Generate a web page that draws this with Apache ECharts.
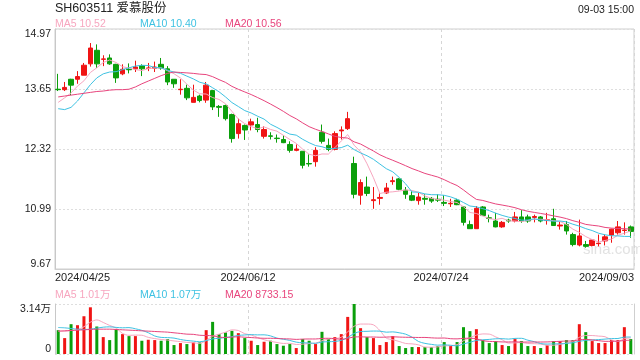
<!DOCTYPE html>
<html><head><meta charset="utf-8">
<script src="https://cdn.jsdelivr.net/npm/echarts@6/dist/echarts.min.js"></script>
<style>html,body{margin:0;padding:0;background:#fff}#c{width:640px;height:360px}</style>
</head><body><div id="c"></div>
<script>
const dates = ['04/25','04/26','04/29','04/30',
'05/06','05/07','05/08','05/09','05/10','05/13','05/14','05/15','05/16','05/17','05/20','05/21','05/22','05/23','05/24','05/27','05/28','05/29','05/30','05/31',
'06/03','06/04','06/05','06/06','06/07','06/11','06/12','06/13','06/14','06/17','06/18','06/19','06/20','06/21','06/24','06/25','06/26','06/27','06/28',
'07/01','07/02','07/03','07/04','07/05','07/08','07/09','07/10','07/11','07/12','07/15','07/16','07/17','07/18','07/19','07/22','07/23','07/24','07/25','07/26','07/29','07/30','07/31',
'08/01','08/02','08/05','08/06','08/07','08/08','08/09','08/12','08/13','08/14','08/15','08/16','08/19','08/20','08/21','08/22','08/23','08/26','08/27','08/28','08/29','08/30',
'09/02','09/03'];
const opens = [13.64,13.63,13.86,13.86,13.95,14.20,14.50,14.30,14.33,14.19,13.98,14.08,14.09,14.16,14.10,14.10,14.19,14.09,13.86,13.63,
13.66,13.35,13.49,13.40,13.61,13.26,13.28,13.08,12.66,12.84,12.85,12.86,12.60,12.61,12.56,12.53,12.42,12.29,12.27,12.00,
12.04,12.69,12.40,12.31,12.72,12.77,12.00,11.30,11.48,11.18,11.23,11.35,11.60,11.66,11.41,11.29,11.18,11.23,11.23,11.21,
11.14,11.11,11.19,11.04,10.65,10.56,11.04,10.80,10.73,10.60,10.75,10.73,10.82,10.82,10.81,10.82,10.74,10.78,10.62,10.65,
10.43,10.20,10.21,10.19,10.23,10.29,10.42,10.47,10.52,10.60];
const closes = [13.63,13.68,13.73,13.92,14.17,14.55,14.20,14.31,14.20,13.89,14.08,14.07,14.13,14.09,14.11,14.13,14.11,13.80,13.76,13.64,
13.45,13.46,13.39,13.73,13.25,13.24,12.99,12.55,12.88,12.74,12.92,12.75,12.75,12.60,12.55,12.46,12.29,12.32,11.96,11.99,
12.29,12.49,12.31,12.66,12.74,12.99,11.32,11.58,11.34,11.20,11.25,11.46,11.62,11.43,11.32,11.19,11.26,11.21,11.17,11.19,
11.12,11.12,11.09,10.70,10.56,11.01,10.85,10.79,10.60,10.70,10.73,10.82,10.73,10.73,10.83,10.73,10.76,10.63,10.64,10.51,
10.21,10.40,10.17,10.31,10.24,10.38,10.55,10.60,10.53,10.50];
const lows = [13.60,13.60,13.51,13.76,13.95,14.14,14.11,14.15,14.18,13.78,13.95,13.99,14.02,13.93,14.04,14.02,14.07,13.73,13.67,13.52,
13.40,13.35,13.35,13.34,13.18,13.03,12.95,12.46,12.55,12.52,12.73,12.69,12.55,12.53,12.46,12.45,12.24,12.27,11.89,11.93,
11.93,12.44,12.27,12.29,12.53,12.74,11.23,11.09,11.28,11.00,11.09,11.33,11.53,11.41,11.22,11.17,11.09,11.09,11.13,11.15,
11.06,11.04,11.08,10.63,10.56,10.56,10.84,10.70,10.59,10.58,10.69,10.70,10.69,10.69,10.70,10.70,10.65,10.62,10.54,10.43,
10.17,10.17,10.14,10.17,10.17,10.19,10.25,10.43,10.43,10.36];
const highs = [13.98,13.80,13.87,14.04,14.22,14.66,14.63,14.39,14.41,14.20,14.19,14.21,14.27,14.19,14.22,14.25,14.33,14.15,13.86,13.86,
13.74,13.74,13.52,13.80,13.62,13.29,13.30,13.10,12.99,12.86,12.99,13.01,12.82,12.69,12.64,12.62,12.49,12.42,12.27,12.20,
12.36,12.86,12.55,12.71,12.82,13.14,12.15,11.65,11.71,11.48,11.34,11.57,11.71,11.68,11.48,11.39,11.35,11.32,11.26,11.32,
11.30,11.22,11.22,11.06,10.74,11.06,11.06,10.87,10.91,10.73,10.78,10.93,10.97,10.87,10.87,10.84,10.91,11.00,10.73,10.73,
10.47,10.76,10.29,10.32,10.43,10.43,10.56,10.73,10.70,10.63];
const volumes = [14976,9984,18720,18096,23712,29328,17264,10608,8736,15600,12480,11232,11232,8320,8944,8736,8320,9360,5616,6864,
6240,7280,7280,14976,20176,12480,13520,14560,13104,9984,8320,5616,7696,8320,6240,5200,6240,3744,9360,8320,
6240,13936,9360,10608,12480,23296,31400,16224,10608,9984,5616,7488,11232,4992,3744,4368,4368,4368,4368,4992,
7488,4992,7488,16848,14352,15600,8736,6864,8112,5616,4992,9360,8112,4992,4992,3744,5616,8112,8112,8736,
8736,18720,13728,8112,6864,6864,8736,8736,16848,9360];
// moving-average values before enough visible sessions exist
const ma5Head = [13.35,13.45,13.56,13.71];
const ma10Head = [13.21,13.19,13.24,13.38,13.56,13.74,13.89,13.98,14.02];
const ma20Head = [13.47,13.49,13.51,13.53,13.55,13.57,13.59,13.60,13.62,13.63,13.63,13.64,13.69,13.76,13.82,13.88,13.94,13.99,14.02];
const volMa5Head = [14352,14352,14768,15184];
const volMa10Head = [16640,16432,16016,15600,15392,15600,16224,16848,17056];
const volMa20Head = [14352,14560,14768,14976,15184,15392,15600,15600,15600,15392,15184,14976,14768,14560,14352,14144,13936,13728,13312];

const priceTickValues = [9.67,10.995,12.32,13.645,14.97];
const priceTickLabels = ['9.67','10.99','12.32','13.65','14.97'];
const xTickValues = [0,30,60,90];
const xTickLabels = ['2024/04/25','2024/06/12','2024/07/24','2024/09/03'];
const volTickValues = [0,31400];
const volTickLabels = ['0','3.14万'];
const titleText = 'SH603511 爱慕股份';
const timeText = '09-03 15:00';
const priceLegend = ['MA5 10.52','MA10 10.40','MA20 10.56'];
const volLegend = ['MA5 1.01万','MA10 1.07万','MA20 8733.15'];
const watermark = 'sina.com';

const RED = '#f01414', GREEN = '#0b9f0b';
const C5 = '#f7a6bf', C10 = '#3ec2e2', C20 = '#e8457d';
const FONT = '"Liberation Sans", Arial, "Noto Sans CJK SC", sans-serif';

function movingAvg(src, n, head) {
  return src.map((v, i) => {
    if (i < n - 1) return head[i];
    let s = 0; for (let k = i - n + 1; k <= i; k++) s += src[k];
    return +(s / n).toFixed(4);
  });
}
function nearestLabel(vals, labels, v) {
  let best = 0; for (let k = 1; k < vals.length; k++) if (Math.abs(vals[k] - v) < Math.abs(vals[best] - v)) best = k;
  return labels[best];
}
const candleData = opens.map((o, i) => [o, closes[i], lows[i], highs[i]]);
const volData = volumes.map((v, i) => ({ value: v, itemStyle: { color: closes[i] >= opens[i] ? RED : GREEN } }));

const chart = echarts.init(document.getElementById('c'), null, { renderer: 'canvas' });
const legendTitles = [];
[55, 140, 225].forEach((x, k) => {
  const col = [C5, C10, C20][k];
  legendTitles.push({ text: priceLegend[k], left: x, top: 19, padding: 0, textStyle: { fontSize: 10.5, fontWeight: 'normal', color: col, fontFamily: FONT } });
  legendTitles.push({ text: volLegend[k], left: x, top: 290, padding: 0, textStyle: { fontSize: 10.5, fontWeight: 'normal', color: col, fontFamily: FONT } });
});
const axisTxt = { fontSize: 10.5, color: '#222', fontFamily: FONT };
chart.setOption({
  animation: false,
  backgroundColor: '#fff',
  title: [
    { text: titleText, left: 55, top: 2, padding: 0, textStyle: { fontSize: 12.5, fontWeight: 'normal', color: '#222', fontFamily: FONT } },
    { text: timeText, right: 6, top: 5, padding: 0, textStyle: { fontSize: 10.5, fontWeight: 'normal', color: '#222', fontFamily: FONT } }
  ].concat(legendTitles),
  graphic: [{ type: 'text', left: 583, top: 242, z: 0, style: { text: watermark, fontSize: 15, fill: '#e2e2e2', fontFamily: FONT } }],
  grid: [
    { left: 55, right: 6, top: 29, height: 240, show: true, borderColor: '#cfcfcf', borderWidth: 1 },
    { left: 55, right: 6, top: 304, height: 50, show: false }
  ],
  xAxis: [
    { type: 'category', gridIndex: 0, data: dates, boundaryGap: true, show: false },
    { type: 'value', gridIndex: 0, min: 0, max: 90, interval: 30, position: 'bottom',
      axisLine: { show: true, lineStyle: { color: '#cfcfcf' } }, axisTick: { show: false },
      axisLabel: { margin: 3, fontSize: 11, color: '#222', fontFamily: FONT, showMinLabel: true, showMaxLabel: true,
        alignMinLabel: 'left', alignMaxLabel: 'right',
        formatter: v => nearestLabel(xTickValues, xTickLabels, v) },
      splitLine: { show: true, lineStyle: { color: '#d6d6d6', type: [3, 3] } } },
    { type: 'category', gridIndex: 1, data: dates, boundaryGap: true, show: false },
    { type: 'value', gridIndex: 1, min: 0, max: 90, interval: 30, position: 'bottom',
      axisLine: { show: false }, axisTick: { show: false }, axisLabel: { show: false },
      splitLine: { show: true, lineStyle: { color: '#d6d6d6', type: [3, 3] } } }
  ],
  yAxis: [
    { type: 'value', gridIndex: 0, min: 9.67, max: 14.97, interval: 1.325, scale: true,
      axisLine: { show: true, lineStyle: { color: '#c8c8c8' } }, axisTick: { show: false },
      axisLabel: Object.assign({ margin: 4, verticalAlignMinLabel: 'bottom', verticalAlignMaxLabel: 'top',
        formatter: v => nearestLabel(priceTickValues, priceTickLabels, v) }, axisTxt),
      splitLine: { show: true, lineStyle: { color: '#dedede', type: [2, 2] } } },
    { type: 'value', gridIndex: 1, min: 0, max: 31400, interval: 31400,
      axisLine: { show: true, lineStyle: { color: '#c8c8c8' } }, axisTick: { show: false },
      axisLabel: Object.assign({ margin: 4, verticalAlignMinLabel: 'bottom', verticalAlignMaxLabel: 'top',
        formatter: v => nearestLabel(volTickValues, volTickLabels, v) }, axisTxt),
      splitLine: { show: true, lineStyle: { color: '#dedede', type: [2, 2] } } },
    { type: 'value', gridIndex: 1, min: 0, max: 31400, position: 'right',
      axisLine: { show: true, lineStyle: { color: '#cfcfcf' } }, axisTick: { show: false }, axisLabel: { show: false }, splitLine: { show: false } }
  ],
  series: [
    { type: 'candlestick', xAxisIndex: 0, yAxisIndex: 0, data: candleData, barWidth: 5,
      itemStyle: { color: RED, color0: GREEN, borderColor: RED, borderColor0: GREEN, borderWidth: 1 } },
    { type: 'line', xAxisIndex: 0, yAxisIndex: 0, data: movingAvg(closes, 5, ma5Head), symbol: 'none', lineStyle: { width: 1, color: C5 } },
    { type: 'line', xAxisIndex: 0, yAxisIndex: 0, data: movingAvg(closes, 10, ma10Head), symbol: 'none', lineStyle: { width: 1, color: C10 } },
    { type: 'line', xAxisIndex: 0, yAxisIndex: 0, data: movingAvg(closes, 20, ma20Head), symbol: 'none', lineStyle: { width: 1, color: C20 } },
    { type: 'bar', xAxisIndex: 2, yAxisIndex: 1, data: volData, barWidth: 3 },
    { type: 'line', xAxisIndex: 2, yAxisIndex: 1, data: movingAvg(volumes, 5, volMa5Head), symbol: 'none', smooth: 0.3, lineStyle: { width: 1, color: C5 } },
    { type: 'line', xAxisIndex: 2, yAxisIndex: 1, data: movingAvg(volumes, 10, volMa10Head), symbol: 'none', smooth: 0.3, lineStyle: { width: 1, color: C10 } },
    { type: 'line', xAxisIndex: 2, yAxisIndex: 1, data: movingAvg(volumes, 20, volMa20Head), symbol: 'none', smooth: 0.3, lineStyle: { width: 1, color: C20 } }
  ]
});
</script></body></html>
